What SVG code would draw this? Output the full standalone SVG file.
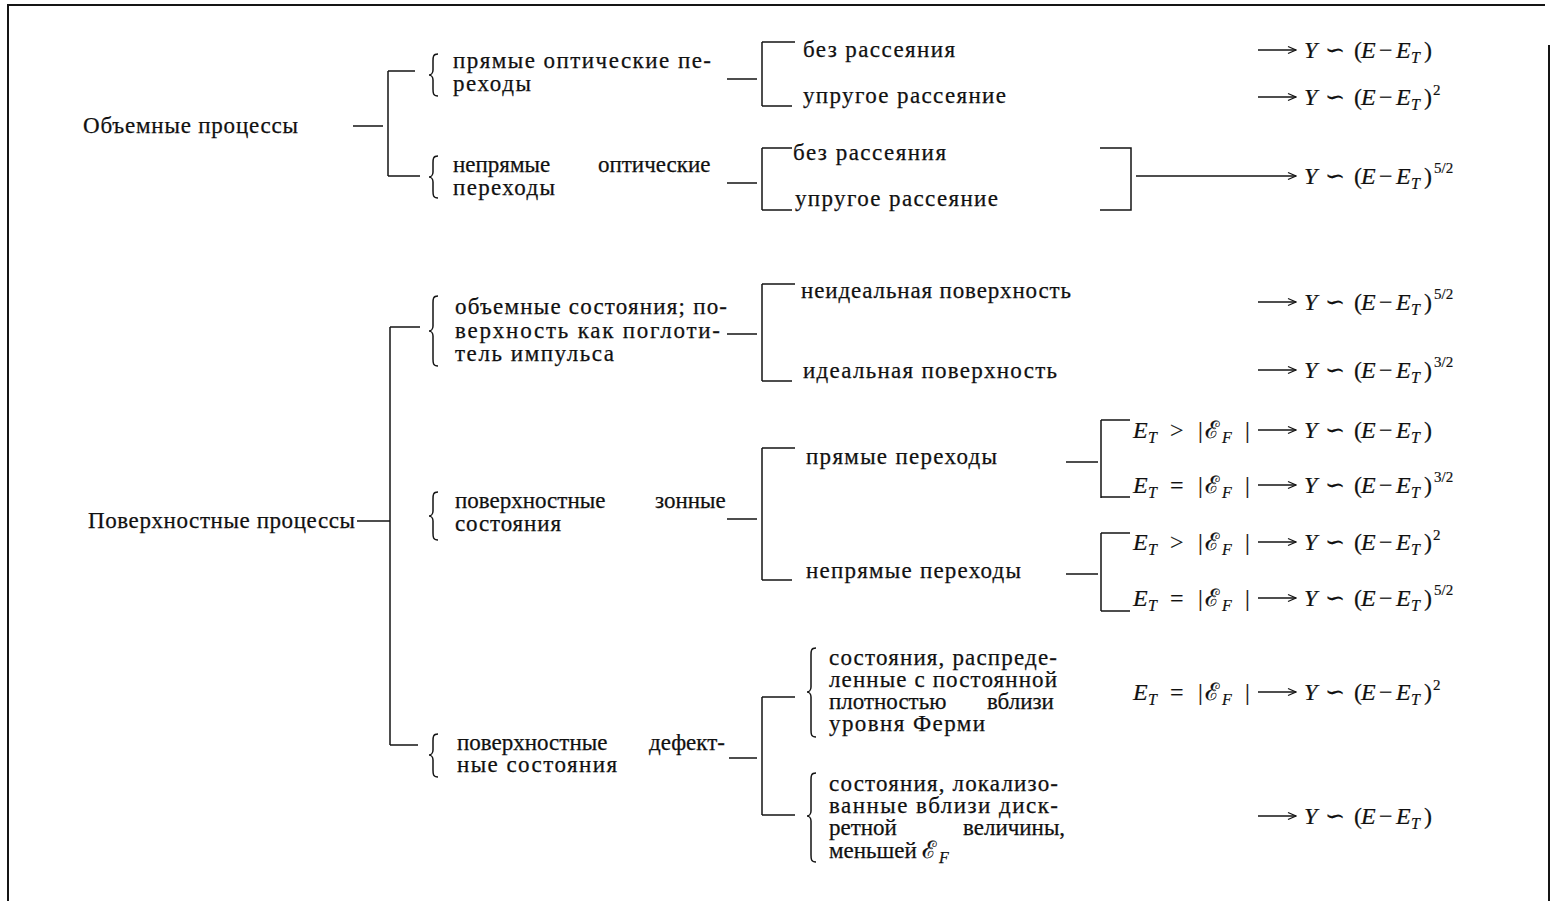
<svg xmlns="http://www.w3.org/2000/svg" width="1555" height="901" viewBox="0 0 1555 901">
<defs>
<style>
.t{font-family:"Liberation Serif","DejaVu Serif",serif;font-size:23px;fill:#111;stroke:#111;stroke-width:0.25}
.f{font-family:"Liberation Serif","DejaVu Serif",serif;font-size:24px;fill:#111;stroke:#111;stroke-width:0.2}
.i{font-style:italic}
.s{font-size:16px}
.sp{font-size:15px}
.ln{stroke:#151515;stroke-width:1.5;fill:none}
.fr{stroke:#151515;stroke-width:2;fill:none}
.br{stroke:#151515;stroke-width:1.5;fill:none}
</style>
<marker id="ah" viewBox="0 0 10 10" refX="9" refY="5" markerWidth="10" markerHeight="10" markerUnits="userSpaceOnUse" orient="auto">
<path d="M1,1.5 L9,5 L1,8.5" fill="none" stroke="#151515" stroke-width="1.3"/>
</marker>
</defs>
<rect width="1555" height="901" fill="#ffffff"/>

<g id="connectors">
<path class="fr" d="M8,901 V5 H1545 M1549,45 V901"/>
<path class="ln" d="M353,126 H383 M388,71 V176 M388,71 H415 M388,176 H420"/>
<path class="ln" d="M727,79 H757 M762,42 V106 M762,42 H795 M762,106 H792"/>
<path class="ln" d="M727,183 H757 M762,148 V210 M762,148 H792 M762,210 H792"/>
<path class="ln" d="M1100,148 H1131 V210 H1100"/>
<path class="ln" d="M1136,176 H1296" marker-end="url(#ah)"/>
<path class="ln" d="M1258,50 H1296" marker-end="url(#ah)"/>
<path class="ln" d="M1258,97 H1296" marker-end="url(#ah)"/>
<path class="ln" d="M357,521 H390 M390,327 V745 M390,327 H420 M390,745 H418"/>
<path class="ln" d="M727,334 H757 M762,284 V381 M762,284 H795 M762,381 H792"/>
<path class="ln" d="M1258,302 H1296" marker-end="url(#ah)"/>
<path class="ln" d="M1258,370 H1296" marker-end="url(#ah)"/>
<path class="ln" d="M727,519 H757 M762,448 V580 M762,448 H795 M762,580 H792"/>
<path class="ln" d="M1066,462 H1098 M1101,420 V498 M1101,420 H1130 M1101,497 H1130"/>
<path class="ln" d="M1066,574 H1098 M1101,533 V611 M1101,533 H1130 M1101,611 H1130"/>
<path class="ln" d="M1258,430 H1296" marker-end="url(#ah)"/>
<path class="ln" d="M1258,485 H1296" marker-end="url(#ah)"/>
<path class="ln" d="M1258,542 H1296" marker-end="url(#ah)"/>
<path class="ln" d="M1258,598 H1296" marker-end="url(#ah)"/>
<path class="ln" d="M729,758 H757 M762,697 V815 M762,697 H795 M762,815 H795"/>
<path class="ln" d="M1258,692 H1296" marker-end="url(#ah)"/>
<path class="ln" d="M1258,816 H1296" marker-end="url(#ah)"/>
</g>

<g id="n-volume">
<text class="t" x="83" y="133" textLength="215" lengthAdjust="spacing">Объемные процессы</text>
</g>

<g id="n-direct-optical">
<path class="br" d="M438,54 C433,54 433,57 433,61 L433,70 C433,73 431,75 429,75 C431,75 433,77 433,80 L433,89 C433,93 433,96 438,96"/>
<text class="t" x="453" y="68" textLength="258" lengthAdjust="spacing">прямые оптические пе-</text>
<text class="t" x="453" y="91" textLength="78" lengthAdjust="spacing">реходы</text>
</g>

<g id="n-indirect-optical">
<path class="br" d="M438,156 C433,156 433,159 433,163 L433,172 C433,175 431,177 429,177 C431,177 433,179 433,182 L433,191 C433,195 433,198 438,198"/>
<text class="t" y="172"><tspan x="453">непрямые</tspan><tspan x="598">оптические</tspan></text>
<text class="t" x="453" y="195" textLength="102" lengthAdjust="spacing">переходы</text>
</g>

<g id="n-v-noscatter-1">
<text class="t" x="803" y="57" textLength="152" lengthAdjust="spacing">без рассеяния</text>
</g>
<g id="n-v-elastic-1">
<text class="t" x="803" y="103" textLength="203" lengthAdjust="spacing">упругое рассеяние</text>
</g>
<g id="n-v-noscatter-2">
<text class="t" x="793" y="160" textLength="153" lengthAdjust="spacing">без рассеяния</text>
</g>
<g id="n-v-elastic-2">
<text class="t" x="795" y="206" textLength="203" lengthAdjust="spacing">упругое рассеяние</text>
</g>

<g id="f-1">
<text class="f" y="58"><tspan x="1304" class="i">Y</tspan><tspan x="1325">∽</tspan><tspan x="1354">(</tspan><tspan x="1361" class="i">E</tspan><tspan x="1379">−</tspan><tspan x="1396" class="i">E</tspan><tspan x="1411" dy="5" class="s i">T</tspan><tspan x="1424" dy="-5">)</tspan></text>
</g>
<g id="f-2">
<text class="f" y="105"><tspan x="1304" class="i">Y</tspan><tspan x="1325">∽</tspan><tspan x="1354">(</tspan><tspan x="1361" class="i">E</tspan><tspan x="1379">−</tspan><tspan x="1396" class="i">E</tspan><tspan x="1411" dy="5" class="s i">T</tspan><tspan x="1424" dy="-5">)</tspan><tspan class="sp" dx="1" dy="-10">2</tspan></text>
</g>
<g id="f-3">
<text class="f" y="184"><tspan x="1304" class="i">Y</tspan><tspan x="1325">∽</tspan><tspan x="1354">(</tspan><tspan x="1361" class="i">E</tspan><tspan x="1379">−</tspan><tspan x="1396" class="i">E</tspan><tspan x="1411" dy="5" class="s i">T</tspan><tspan x="1424" dy="-5">)</tspan><tspan class="sp" dx="2" dy="-11">5/2</tspan></text>
</g>

<g id="n-surface">
<text class="t" x="88" y="528" textLength="267" lengthAdjust="spacing">Поверхностные процессы</text>
</g>

<g id="n-bulk-states">
<path class="br" d="M438,296 C433,296 433,299 433,303 L433,326 C433,329 431,331 429,331 C431,331 433,333 433,336 L433,359 C433,363 433,366 438,366"/>
<text class="t" x="455" y="314" textLength="272" lengthAdjust="spacing">объемные состояния; по-</text>
<text class="t" x="455" y="338" textLength="265" lengthAdjust="spacing">верхность как поглоти-</text>
<text class="t" x="455" y="361" textLength="159" lengthAdjust="spacing">тель импульса</text>
</g>
<g id="n-nonideal">
<text class="t" x="801" y="298" textLength="270" lengthAdjust="spacing">неидеальная поверхность</text>
</g>
<g id="n-ideal">
<text class="t" x="803" y="378" textLength="254" lengthAdjust="spacing">идеальная поверхность</text>
</g>
<g id="f-4">
<text class="f" y="310"><tspan x="1304" class="i">Y</tspan><tspan x="1325">∽</tspan><tspan x="1354">(</tspan><tspan x="1361" class="i">E</tspan><tspan x="1379">−</tspan><tspan x="1396" class="i">E</tspan><tspan x="1411" dy="5" class="s i">T</tspan><tspan x="1424" dy="-5">)</tspan><tspan class="sp" dx="2" dy="-11">5/2</tspan></text>
</g>
<g id="f-5">
<text class="f" y="378"><tspan x="1304" class="i">Y</tspan><tspan x="1325">∽</tspan><tspan x="1354">(</tspan><tspan x="1361" class="i">E</tspan><tspan x="1379">−</tspan><tspan x="1396" class="i">E</tspan><tspan x="1411" dy="5" class="s i">T</tspan><tspan x="1424" dy="-5">)</tspan><tspan class="sp" dx="2" dy="-11">3/2</tspan></text>
</g>

<g id="n-band-states">
<path class="br" d="M438,492 C433,492 433,495 433,499 L433,511 C433,514 431,516 429,516 C431,516 433,518 433,521 L433,533 C433,537 433,540 438,540"/>
<text class="t" y="508"><tspan x="455">поверхностные</tspan><tspan x="655">зонные</tspan></text>
<text class="t" x="455" y="531" textLength="106" lengthAdjust="spacing">состояния</text>
</g>
<g id="n-direct-trans">
<text class="t" x="806" y="464" textLength="191" lengthAdjust="spacing">прямые переходы</text>
</g>
<g id="n-indirect-trans">
<text class="t" x="806" y="578" textLength="215" lengthAdjust="spacing">непрямые переходы</text>
</g>

<g id="f-6">
<text class="f" y="438"><tspan x="1133" class="i">E</tspan><tspan x="1148" dy="5" class="s i">T</tspan><tspan x="1170" dy="-5">&gt;</tspan><tspan x="1198">|</tspan><tspan x="1205">ℰ</tspan><tspan x="1222" dy="5" class="s i">F</tspan><tspan x="1245" dy="-5">|</tspan></text>
<text class="f" y="438"><tspan x="1304" class="i">Y</tspan><tspan x="1325">∽</tspan><tspan x="1354">(</tspan><tspan x="1361" class="i">E</tspan><tspan x="1379">−</tspan><tspan x="1396" class="i">E</tspan><tspan x="1411" dy="5" class="s i">T</tspan><tspan x="1424" dy="-5">)</tspan></text>
</g>
<g id="f-7">
<text class="f" y="493"><tspan x="1133" class="i">E</tspan><tspan x="1148" dy="5" class="s i">T</tspan><tspan x="1170" dy="-5">=</tspan><tspan x="1198">|</tspan><tspan x="1205">ℰ</tspan><tspan x="1222" dy="5" class="s i">F</tspan><tspan x="1245" dy="-5">|</tspan></text>
<text class="f" y="493"><tspan x="1304" class="i">Y</tspan><tspan x="1325">∽</tspan><tspan x="1354">(</tspan><tspan x="1361" class="i">E</tspan><tspan x="1379">−</tspan><tspan x="1396" class="i">E</tspan><tspan x="1411" dy="5" class="s i">T</tspan><tspan x="1424" dy="-5">)</tspan><tspan class="sp" dx="2" dy="-11">3/2</tspan></text>
</g>
<g id="f-8">
<text class="f" y="550"><tspan x="1133" class="i">E</tspan><tspan x="1148" dy="5" class="s i">T</tspan><tspan x="1170" dy="-5">&gt;</tspan><tspan x="1198">|</tspan><tspan x="1205">ℰ</tspan><tspan x="1222" dy="5" class="s i">F</tspan><tspan x="1245" dy="-5">|</tspan></text>
<text class="f" y="550"><tspan x="1304" class="i">Y</tspan><tspan x="1325">∽</tspan><tspan x="1354">(</tspan><tspan x="1361" class="i">E</tspan><tspan x="1379">−</tspan><tspan x="1396" class="i">E</tspan><tspan x="1411" dy="5" class="s i">T</tspan><tspan x="1424" dy="-5">)</tspan><tspan class="sp" dx="1" dy="-10">2</tspan></text>
</g>
<g id="f-9">
<text class="f" y="606"><tspan x="1133" class="i">E</tspan><tspan x="1148" dy="5" class="s i">T</tspan><tspan x="1170" dy="-5">=</tspan><tspan x="1198">|</tspan><tspan x="1205">ℰ</tspan><tspan x="1222" dy="5" class="s i">F</tspan><tspan x="1245" dy="-5">|</tspan></text>
<text class="f" y="606"><tspan x="1304" class="i">Y</tspan><tspan x="1325">∽</tspan><tspan x="1354">(</tspan><tspan x="1361" class="i">E</tspan><tspan x="1379">−</tspan><tspan x="1396" class="i">E</tspan><tspan x="1411" dy="5" class="s i">T</tspan><tspan x="1424" dy="-5">)</tspan><tspan class="sp" dx="2" dy="-11">5/2</tspan></text>
</g>

<g id="n-defect-states">
<path class="br" d="M438,734 C433,734 433,737 433,741 L433,750 C433,753 431,755 429,755 C431,755 433,757 433,760 L433,770 C433,774 433,777 438,777"/>
<text class="t" y="750"><tspan x="457">поверхностные</tspan><tspan x="649">дефект-</tspan></text>
<text class="t" x="457" y="772" textLength="160" lengthAdjust="spacing">ные состояния</text>
</g>
<g id="n-distributed">
<path class="br" d="M816,648 C811,648 811,651 811,655 L811,687 C811,690 809,692 807,692 C809,692 811,694 811,697 L811,730 C811,734 811,737 816,737"/>
<text class="t" x="829" y="665" textLength="228" lengthAdjust="spacing">состояния, распреде-</text>
<text class="t" x="829" y="687" textLength="228" lengthAdjust="spacing">ленные с постоянной</text>
<text class="t" y="709"><tspan x="829">плотностью</tspan><tspan x="987">вблизи</tspan></text>
<text class="t" x="829" y="731" textLength="156" lengthAdjust="spacing">уровня Ферми</text>
</g>
<g id="n-localized">
<path class="br" d="M816,773 C811,773 811,776 811,780 L811,811 C811,814 809,816 807,816 C809,816 811,818 811,821 L811,855 C811,859 811,862 816,862"/>
<text class="t" x="829" y="791" textLength="229" lengthAdjust="spacing">состояния, локализо-</text>
<text class="t" x="829" y="813" textLength="229" lengthAdjust="spacing">ванные вблизи диск-</text>
<text class="t" y="835"><tspan x="829">ретной</tspan><tspan x="963">величины,</tspan></text>
<text class="t" y="858"><tspan x="829">меньшей</tspan><tspan x="922" class="f">ℰ</tspan><tspan x="939" dy="5" class="s i">F</tspan></text>
</g>
<g id="f-10">
<text class="f" y="700"><tspan x="1133" class="i">E</tspan><tspan x="1148" dy="5" class="s i">T</tspan><tspan x="1170" dy="-5">=</tspan><tspan x="1198">|</tspan><tspan x="1205">ℰ</tspan><tspan x="1222" dy="5" class="s i">F</tspan><tspan x="1245" dy="-5">|</tspan></text>
<text class="f" y="700"><tspan x="1304" class="i">Y</tspan><tspan x="1325">∽</tspan><tspan x="1354">(</tspan><tspan x="1361" class="i">E</tspan><tspan x="1379">−</tspan><tspan x="1396" class="i">E</tspan><tspan x="1411" dy="5" class="s i">T</tspan><tspan x="1424" dy="-5">)</tspan><tspan class="sp" dx="1" dy="-10">2</tspan></text>
</g>
<g id="f-11">
<text class="f" y="824"><tspan x="1304" class="i">Y</tspan><tspan x="1325">∽</tspan><tspan x="1354">(</tspan><tspan x="1361" class="i">E</tspan><tspan x="1379">−</tspan><tspan x="1396" class="i">E</tspan><tspan x="1411" dy="5" class="s i">T</tspan><tspan x="1424" dy="-5">)</tspan></text>
</g>
</svg>
